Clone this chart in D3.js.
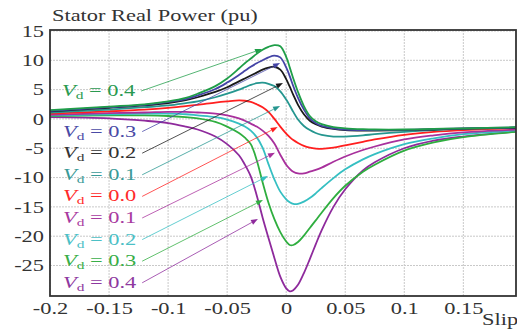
<!DOCTYPE html>
<html>
<head>
<meta charset="utf-8">
<script src="https://cdn.jsdelivr.net/npm/d3@7"></script>
<style>
  html, body { margin: 0; padding: 0; background: #fff; }
  svg { display: block; font-family: "Liberation Serif", "Times New Roman", serif; }
</style>
</head>
<body>
<svg id="chart" width="517" height="330"></svg>
<script>
// Slip sample points shared by every curve
const slip = [-0.2, -0.15, -0.12, -0.1, -0.085, -0.075, -0.06, -0.05, -0.04, -0.035, -0.03, -0.025,
  -0.02, -0.015, -0.01, -0.005, 0, 0.003, 0.006, 0.01, 0.015, 0.02, 0.025, 0.03, 0.04, 0.05,
  0.065, 0.075, 0.1, 0.125, 0.15, 0.195];

// Rotor d-axis voltage of each curve
const vd = [0.4, 0.3, 0.2, 0.1, 0.0, -0.1, -0.2, -0.3, -0.4];

// Stator real power (pu) for each Vd
const powerVdP04 = [1.5, 2.1, 2.5, 3.0, 3.6, 4.3, 5.6, 6.9, 8.6, 9.5, 10.3, 11.1,
  11.8, 12.3, 12.6, 12.4, 10.6, 8.8, 6.9, 4.6, 2.2, 0.5, -0.4, -0.9, -1.4, -1.6,
  -1.75, -1.8, -1.8, -1.7, -1.6, -1.4];
const powerVdP03 = [1.4, 2.0, 2.4, 2.9, 3.4, 4.0, 5.1, 6.2, 7.5, 8.2, 8.9, 9.5,
  10.0, 10.5, 10.8, 10.5, 8.8, 7.3, 5.6, 3.6, 1.6, 0.1, -0.7, -1.2, -1.6, -1.8,
  -1.9, -1.9, -1.85, -1.75, -1.6, -1.45];
const powerVdP02 = [1.3, 1.9, 2.3, 2.7, 3.2, 3.7, 4.6, 5.4, 6.4, 6.9, 7.4, 7.9,
  8.4, 8.75, 8.9, 8.4, 6.8, 5.5, 4.1, 2.4, 0.8, -0.3, -0.9, -1.3, -1.7, -1.9,
  -2.0, -2.0, -1.9, -1.8, -1.65, -1.5];
const powerVdP01 = [1.1, 1.6, 2.0, 2.3, 2.7, 3.0, 3.7, 4.3, 5.0, 5.4, 5.8, 6.1,
  6.2, 6.0, 5.6, 4.7, 3.3, 2.3, 1.2, -0.1, -1.2, -1.9, -2.4, -2.7, -3.0, -3.0,
  -2.8, -2.6, -2.2, -1.9, -1.7, -1.5];
const powerVd00 = [0.9, 1.3, 1.6, 1.9, 2.2, 2.4, 2.8, 3.0, 3.15, 3.1, 2.9, 2.5,
  2.0, 1.2, 0.0, -1.3, -2.5, -3.1, -3.6, -4.1, -4.6, -4.9, -5.05, -5.1, -4.9, -4.5,
  -3.9, -3.5, -2.7, -2.2, -1.9, -1.55];
const powerVdN01 = [0.7, 1.0, 1.1, 1.2, 1.2, 1.1, 0.9, 0.6, 0.1, -0.3, -0.8, -1.3,
  -2.0, -2.9, -4.2, -6.1, -7.8, -8.5, -9.0, -9.3, -9.3, -9.0, -8.7, -8.3, -7.3, -6.4,
  -5.3, -4.7, -3.5, -2.8, -2.3, -1.8];
const powerVdN02 = [0.6, 0.8, 0.9, 0.9, 0.8, 0.6, 0.3, -0.1, -0.8, -1.3, -2.0, -3.1,
  -4.9, -7.7, -10.3, -12.4, -13.7, -14.2, -14.5, -14.5, -14.1, -13.5, -12.7, -11.8, -10.1, -8.6,
  -6.9, -6.0, -4.3, -3.3, -2.6, -1.95];
const powerVdN03 = [0.5, 0.6, 0.6, 0.5, 0.3, 0.1, -0.5, -1.3, -2.4, -3.2, -4.3, -7.0,
  -10.8, -14.3, -17.1, -19.3, -20.9, -21.5, -21.5, -21.0, -19.9, -18.6, -17.3, -16.0, -13.5, -11.4,
  -9.0, -7.8, -5.4, -4.0, -3.1, -2.2];
const powerVdN04 = [0.3, 0.1, -0.3, -0.7, -1.3, -1.8, -3.0, -4.3, -6.2, -7.8, -9.8, -13.0,
  -16.8, -20.3, -23.7, -26.9, -28.9, -29.4, -29.2, -28.3, -26.3, -23.9, -21.4, -19.0, -15.0, -12.0,
  -8.8, -7.4, -5.0, -3.7, -3.0, -2.15];

const powerSeries = [powerVdP04, powerVdP03, powerVdP02, powerVdP01, powerVd00,
  powerVdN01, powerVdN02, powerVdN03, powerVdN04];

// Curve and label colours, one per Vd
const curveColors = ["#1f9e48", "#4444a6", "#1a1a1a", "#25968f", "#ff1f1f",
  "#a8309c", "#35bfc2", "#2fae3f", "#8e2a9c"];
const labelColors = ["#2a9a50", "#4a4aa6", "#333333", "#3a9a98", "#ff2a2a",
  "#a83aa0", "#4cc0c6", "#38ae48", "#8e38a0"];

// Where each label's pointer lands (slip, pu)
const pointerSlip  = [-0.0205, -0.0052, -0.0027, -0.0052, -0.0072, -0.0095, -0.0154, -0.0197, -0.0239];
const pointerPower = [11.92, 9.54, 6.12, 2.20, -1.38, -5.77, -9.74, -13.83, -17.07];

// Axis ticks
const xTicks = [-0.2, -0.15, -0.1, -0.05, 0, 0.05, 0.1, 0.15];
const yTicks = [15, 10, 5, 0, -5, -10, -15, -20, -25];

// ---------------------------------------------------------------------------
const SX = 1.4;              // horizontal stretch applied to all lettering
const FONT = 16;
const plot = { left: 50, top: 30, right: 516, bottom: 296 };

const svg = d3.select("#chart");
const x = d3.scaleLinear().domain([-0.2, 0.1946]).range([plot.left, plot.right]);
const y = d3.scaleLinear().domain([-30.2, 15.17]).range([plot.bottom, plot.top]);
const fmt = v => String(v);

// grid
const grid = svg.append("g").attr("stroke", "#c9c9c9").attr("stroke-width", 1)
  .attr("stroke-dasharray", "2,1");
grid.selectAll("line.v").data(xTicks).join("line").attr("class", "v")
  .attr("x1", d => x(d)).attr("x2", d => x(d)).attr("y1", plot.top).attr("y2", plot.bottom);
grid.selectAll("line.h").data(yTicks).join("line").attr("class", "h")
  .attr("x1", plot.left).attr("x2", plot.right).attr("y1", d => y(d)).attr("y2", d => y(d));

// curves
svg.append("clipPath").attr("id", "plotClip").append("rect")
  .attr("x", plot.left).attr("y", plot.top)
  .attr("width", plot.right - plot.left).attr("height", plot.bottom - plot.top);

const line = d3.line()
  .x((d, i) => x(slip[i]))
  .y(d => y(d))
  .curve(d3.curveCatmullRom.alpha(0.5));

const curveOrder = [8, 7, 6, 5, 4, 3, 2, 1, 0];
svg.append("g").attr("clip-path", "url(#plotClip)")
  .selectAll("path").data(curveOrder).join("path")
  .attr("d", i => line(powerSeries[i]))
  .attr("fill", "none")
  .attr("stroke", i => curveColors[i])
  .attr("stroke-width", 1.8)
  .attr("stroke-linejoin", "round");

// frame
svg.append("rect")
  .attr("x", plot.left).attr("y", plot.top)
  .attr("width", plot.right - plot.left).attr("height", plot.bottom - plot.top)
  .attr("fill", "none").attr("stroke", "#333").attr("stroke-width", 1.8);

// axes
const yAxis = svg.append("g").attr("transform", `translate(${plot.left},0)`)
  .call(d3.axisLeft(y).tickValues(yTicks).tickSize(0).tickPadding(0).tickFormat(fmt));
const xAxis = svg.append("g").attr("transform", `translate(0,${plot.bottom})`)
  .call(d3.axisBottom(x).tickValues(xTicks).tickSize(0).tickPadding(0).tickFormat(fmt));
[xAxis, yAxis].forEach(a => {
  a.select(".domain").remove();
  a.attr("font-family", null).attr("font-size", FONT);
  a.selectAll("text").attr("fill", "#333").attr("transform", `scale(${SX},1)`);
});
yAxis.selectAll("text").attr("x", -6 / SX).attr("dy", "0.33em");
xAxis.selectAll("text").attr("y", 7).attr("dy", "0.71em");

// title and axis name
function stretchedText(px, py, str, color) {
  return svg.append("text")
    .attr("transform", `translate(${px},${py}) scale(${SX},1)`)
    .attr("font-size", FONT).attr("fill", color).text(str);
}
stretchedText(52, 21, "Stator Real Power (pu)", "#333");
stretchedText(482, 325, "Slip", "#333");

// labels with pointers
const labelX = [62, 63, 63, 63, 63, 63, 63, 63, 63];
const labelBase = [96, 136.6, 158.2, 179.8, 201.4, 223, 244.6, 266.2, 287.8];

const leaders = svg.append("g");
vd.forEach((v, i) => {
  const t = svg.append("text")
    .attr("transform", `translate(${labelX[i]},${labelBase[i]}) scale(${SX},1)`)
    .attr("font-size", FONT).attr("fill", labelColors[i]);
  t.append("tspan").attr("font-style", "italic").text("V");
  t.append("tspan").attr("font-size", 11).attr("dy", 3).text("d");
  t.append("tspan").attr("dy", -3).text(" = " + Math.abs(v).toFixed(1));

  const w = t.node().getComputedTextLength() * SX;
  const x0 = labelX[i] + w + 6, y0 = labelBase[i] - 5;
  const x1 = x(pointerSlip[i]), y1 = y(pointerPower[i]);
  const ang = Math.atan2(y1 - y0, x1 - x0);
  const len = 7, half = 2.6;
  const bx = x1 - len * Math.cos(ang), by = y1 - len * Math.sin(ang);

  leaders.append("line")
    .attr("x1", x0).attr("y1", y0).attr("x2", bx).attr("y2", by)
    .attr("stroke", curveColors[i]).attr("stroke-opacity", 0.85).attr("stroke-width", 0.9);
  leaders.append("path")
    .attr("d", `M${x1},${y1} L${bx - half * Math.sin(ang)},${by + half * Math.cos(ang)} L${bx + half * Math.sin(ang)},${by - half * Math.cos(ang)} Z`)
    .attr("fill", curveColors[i]);
});
</script>
</body>
</html>
